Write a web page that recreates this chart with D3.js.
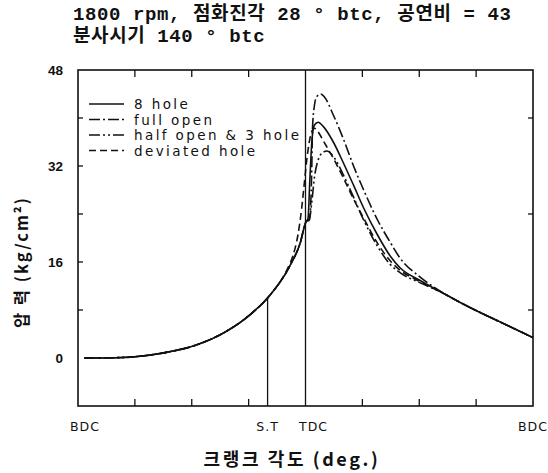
<!DOCTYPE html>
<html><head><meta charset="utf-8">
<script src="https://cdn.jsdelivr.net/npm/d3@7"></script>
<style>body{margin:0;background:#fff}</style>
</head><body>
<svg id="chart" width="548" height="473"></svg>
<script>
// ---------- data ----------
const titleLines = ["1800 rpm, 점화진각 28 ° btc, 공연비 = 43", "분사시기 140 ° btc"];
const xTitle = "크랭크 각도 (deg.)";
const yTitle = "압 력 (kg/cm²)";
const yTickLabels = [0, 16, 32, 48];
const yLeftMinorTicks = [8, 16, 24, 32, 40];
const yRightMinorTicks = [8, 24, 40];
const xTickAngles = [-135, -90, -45, 45, 90, 135];
const xLabelNames = ["BDC", "S.T", "TDC", "BDC"];
const xLabelAngles = [-180, -30, 0, 180];
const sparkAngle = -30;

const seriesNames = ["8 hole", "full open", "half open & 3 hole", "deviated hole"];

// shared compression stroke (crank angle, kg/cm2)
const compressionAngles = [-175, -150, -133, -111, -86, -63, -44, -28, -12, -4, 0];
const compressionValues = [0, 0.05, 0.25, 0.9, 2.2, 4.4, 7.2, 10.5, 15.5, 19.3, 22.5];

// combustion / expansion part of each series
const hole8Angles = [2, 3.5, 5, 7, 10, 14, 22, 30, 38, 46, 57, 67, 75, 90, 108];
const hole8Values = [23.3, 30, 36, 38.8, 39.3, 38.6, 36, 32.5, 28.8, 25, 20.5, 17, 15.0, 13.0, 10.9];

const fullOpenAngles = [3, 4, 5, 5.5, 7, 9, 12, 15, 22, 30, 38, 46, 57, 67, 75, 90, 108];
const fullOpenValues = [23.2, 25, 32, 38, 42, 43.6, 44, 43.5, 40.5, 36.5, 32, 28, 23, 19.3, 16.6, 13.6, 10.95];

const halfOpenAngles = [3, 5, 7, 10, 14, 17, 22, 30, 38, 46, 57, 67, 75, 90, 108];
const halfOpenValues = [23, 26, 30, 33, 34.3, 34.5, 33.6, 30.5, 26.8, 23, 18.6, 15.6, 14.2, 12.6, 10.9];

const deviatedAngles = [-14, -10, -6, -3, -1, 1, 3, 5, 7, 9, 12, 16, 22, 30, 38, 46, 57, 67, 75, 90, 108];
const deviatedValues = [15.0, 17, 20.5, 25, 29, 33, 36, 37.8, 38.3, 38, 37, 35.5, 33.3, 30, 26.5, 23.3, 19.1, 16.2, 14.6, 12.8, 10.9];

// shared expansion tail
const tailAngles = [122, 137, 152, 167, 180];
const tailValues = [9.3, 7.7, 6.2, 4.7, 3.4];

const dashStyles = [null, "11,3,2,3", "11,3,2,3,2,3", "7,4"];

// ---------- layout ----------
const svg = d3.select("#chart");
const X0 = 78, X1 = 533, Y0 = 70, Y1 = 406;
const x = d3.scaleLinear().domain([-180, 180]).range([X0, X1]);
const y = d3.scaleLinear().domain([-8, 48]).range([Y1, Y0]);

function zip(a, v) { return a.map((d, i) => ({a: d, v: v[i]})); }
function build(angles, values) {
  const comp = zip(compressionAngles, compressionValues).filter(d => d.a < angles[0]);
  return comp.concat(zip(angles, values), zip(tailAngles, tailValues));
}
const seriesData = [
  build(hole8Angles, hole8Values),
  build(fullOpenAngles, fullOpenValues),
  build(halfOpenAngles, halfOpenValues),
  build(deviatedAngles, deviatedValues)
];

// title
svg.selectAll("text.title").data(titleLines).enter().append("text")
  .attr("x", 73).attr("y", (d, i) => 20 + i * 22)
  .attr("font-family", "'Liberation Mono','Noto Sans CJK KR',monospace")
  .attr("font-weight", "bold").attr("font-size", 19).attr("letter-spacing", 0.6).attr("fill", "#111")
  .text(d => d);

// frame
svg.append("rect").attr("x", X0).attr("y", Y0).attr("width", X1 - X0).attr("height", Y1 - Y0)
  .attr("fill", "none").attr("stroke", "#111").attr("stroke-width", 1.6);

// ticks
const g = svg.append("g").attr("stroke", "#111").attr("stroke-width", 1.3);
g.selectAll("line.bt").data(xTickAngles).enter().append("line")
  .attr("x1", d => x(d)).attr("x2", d => x(d)).attr("y1", Y1).attr("y2", Y1 - 7);
g.selectAll("line.tt").data(xTickAngles).enter().append("line")
  .attr("x1", d => x(d)).attr("x2", d => x(d)).attr("y1", Y0).attr("y2", Y0 + 7);
g.selectAll("line.lt").data(yLeftMinorTicks).enter().append("line")
  .attr("x1", X0).attr("x2", X0 + 5).attr("y1", d => y(d)).attr("y2", d => y(d));
g.selectAll("line.rt").data(yRightMinorTicks).enter().append("line")
  .attr("x1", X1).attr("x2", X1 - 5).attr("y1", d => y(d)).attr("y2", d => y(d));

// TDC line
g.append("line").attr("x1", x(0)).attr("x2", x(0)).attr("y1", Y0).attr("y2", Y1);
// S.T line from curve down to axis
const stVal = d3.scaleLinear().domain(compressionAngles).range(compressionValues)(sparkAngle);
g.append("line").attr("x1", x(sparkAngle)).attr("x2", x(sparkAngle)).attr("y1", y(stVal)).attr("y2", Y1);

// y tick labels
svg.selectAll("text.yl").data(yTickLabels).enter().append("text")
  .attr("x", 63).attr("y", d => y(d) + 5).attr("text-anchor", "end")
  .attr("font-family", "'Liberation Sans',Arial,sans-serif").attr("font-weight", "bold")
  .attr("font-size", 13.5).attr("fill", "#111").text(d => d);

// x labels
svg.selectAll("text.xl").data(xLabelNames).enter().append("text")
  .attr("x", (d, i) => x(xLabelAngles[i]) + (i === 2 ? 8 : i === 0 ? 7 : 0)).attr("y", 431).attr("text-anchor", "middle")
  .attr("font-family", "'DejaVu Sans',sans-serif").attr("font-size", 12.5)
  .attr("letter-spacing", 1).attr("fill", "#111").text(d => d);

// axis titles
svg.append("text").attr("x", 292).attr("y", 466).attr("text-anchor", "middle")
  .attr("font-family", "'Noto Sans CJK KR','Liberation Mono',sans-serif").attr("font-weight", "bold")
  .attr("font-size", 18).attr("fill", "#111").attr("letter-spacing", 2.6).text(xTitle);
svg.append("text").attr("transform", "translate(28,262) rotate(-90)").attr("text-anchor", "middle")
  .attr("font-family", "'Noto Sans CJK KR','Liberation Mono',sans-serif").attr("font-weight", "bold")
  .attr("font-size", 16.5).attr("fill", "#111").attr("letter-spacing", 2).text(yTitle);

// curves
const line = d3.line().x(d => x(d.a)).y(d => y(d.v)).curve(d3.curveMonotoneX);
svg.selectAll("path.s").data(seriesData).enter().append("path")
  .attr("d", line).attr("fill", "none").attr("stroke", "#111").attr("stroke-width", 1.6)
  .attr("stroke-dasharray", (d, i) => dashStyles[i]);

// legend
const leg = svg.selectAll("g.leg").data(seriesNames).enter().append("g")
  .attr("transform", (d, i) => `translate(89,${104 + i * 15.5})`);
leg.append("line").attr("x1", 0).attr("x2", 35).attr("y1", 0).attr("y2", 0)
  .attr("stroke", "#111").attr("stroke-width", 1.5)
  .attr("stroke-dasharray", (d, i) => dashStyles[i]);
leg.append("text").attr("x", 45).attr("y", 5)
  .attr("font-family", "'DejaVu Sans',sans-serif").attr("font-size", 13.5)
  .attr("letter-spacing", 2.4).attr("fill", "#111").text(d => d);
</script>
</body></html>
